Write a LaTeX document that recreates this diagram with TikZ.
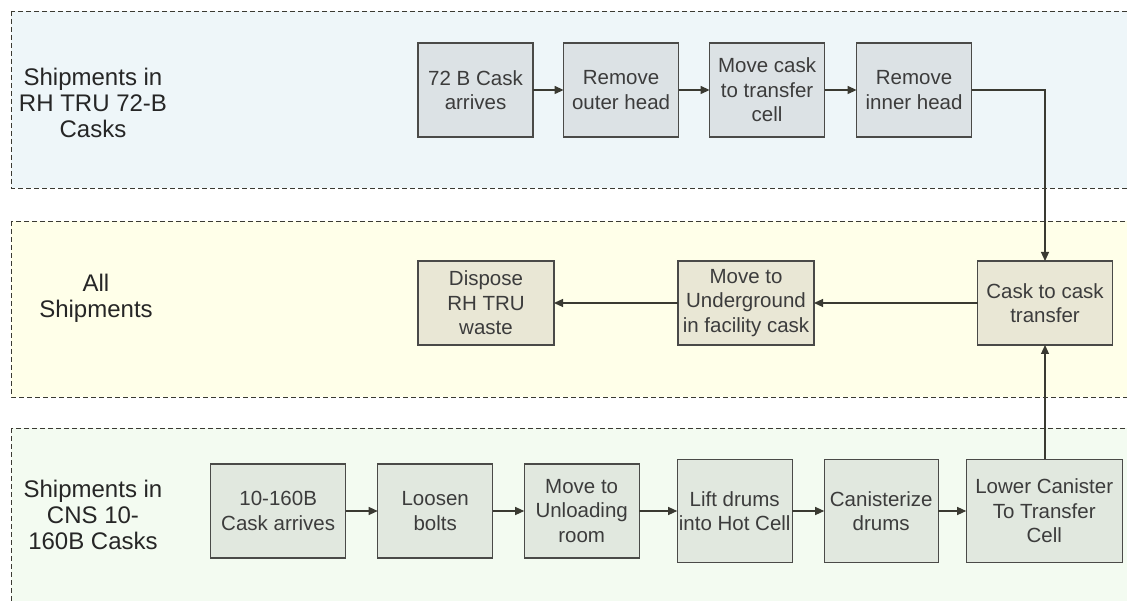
\documentclass[tikz,border=0pt]{standalone}
\usepackage{fontspec}
\setmainfont{Liberation Sans}
\usepackage{tikz}
\usetikzlibrary{arrows.meta,positioning}
\usepackage{xcolor}
\definecolor{rhlane}{HTML}{EEF6F9}
\definecolor{alllane}{HTML}{FFFFE9}
\definecolor{cnslane}{HTML}{F3FBF1}
\definecolor{rhfill}{HTML}{DCE2E5}
\definecolor{allfill}{HTML}{E9E7D5}
\definecolor{cnsfill}{HTML}{E1E8DF}
\definecolor{boxborder}{HTML}{4A4A48}
\definecolor{flowdark}{HTML}{3A3A32}
\definecolor{steptext}{HTML}{3C3C3C}
\definecolor{lanetext}{HTML}{262626}

\begin{document}
\begin{tikzpicture}[
  x=1pt, y=-1pt,
  >={Triangle[length=9pt,width=8pt]},
  laneband/.style={
    draw=flowdark,
    dash pattern=on 5pt off 3pt,
    line width=0.9pt
  },
  lanelabel/.style={
    align=center,
    text=lanetext,
    font=\fontsize{24pt}{26pt}\selectfont
  },
  rhbox/.style={
    draw=boxborder,
    fill=rhfill,
    line width=1.2pt,
    inner sep=0pt,
    outer sep=0pt,
    minimum width=115pt,
    minimum height=94pt,
    align=center,
    text=steptext,
    font=\fontsize{20.5pt}{24.5pt}\selectfont
  },
  allbox/.style={
    rhbox,
    fill=allfill,
    minimum width=136pt,
    minimum height=84pt
  },
  cnsbox/.style={
    rhbox,
    fill=cnsfill
  },
  flowarrow/.style={
    ->,
    line width=1.2pt,
    draw=flowdark
  }
]

  \useasboundingbox (0,0) rectangle (1127,601);
  \clip (0,0) rectangle (1127,601);
  \fill[white] (0,0) rectangle (1127,601);

  % Swim lanes
  \draw[laneband, fill=rhlane] (11,11) rectangle (1140,188);
  \draw[laneband, fill=alllane] (11,221) rectangle (1140,397);
  \draw[laneband, fill=cnslane] (11,428) rectangle (1140,620);

  \node[lanelabel] (rhlabel) at (93,103) {Shipments in\\RH TRU 72-B\\Casks};
  \node[lanelabel] (alllabel) at (96,298) {All\\Shipments};
  \node[lanelabel] (cnslabel) at (93,515) {Shipments in\\CNS 10-\\160B Casks};

  % --- RH TRU 72-B row ---
  \node[rhbox] (arrive72) at (475.5,90) {72 B Cask\\arrives};
  \node[rhbox, right=30.6pt of arrive72] (outerhead) {Remove\\outer head};
  \node[rhbox, right=31pt of outerhead] (movecask) {Move cask\\to transfer\\cell};
  \node[rhbox, right=32pt of movecask] (innerhead) {Remove\\inner head};

  % --- All shipments row ---
  \node[allbox, minimum width=135pt] (caskxfer) at (1045,303) {Cask to cask\\transfer};
  \node[allbox, left=163.5pt of caskxfer] (underground) {Move to\\Underground\\in facility cask};
  \node[allbox, left=124pt of underground] (dispose) {Dispose\\RH TRU\\waste};

  % --- CNS 10-160B row ---
  \node[cnsbox, minimum width=135pt] (arrive160) at (278.2,511) {10-160B\\Cask arrives};
  \node[cnsbox, right=32pt of arrive160] (loosen) {Loosen\\bolts};
  \node[cnsbox, right=31.5pt of loosen] (unloading) {Move to\\Unloading\\room};
  \node[cnsbox, minimum height=103.5pt, right=38pt of unloading] (liftdrums) {Lift drums\\into Hot Cell};
  \node[cnsbox, minimum width=114pt, minimum height=103.5pt, right=32pt of liftdrums] (canister) {Canisterize\\drums};
  \node[cnsbox, minimum width=156pt, minimum height=103.5pt, right=28pt of canister] (lowercan) {Lower Canister\\To Transfer\\Cell};

  % Connecting Arrows
  \draw[flowarrow] (arrive72) -- (outerhead);
  \draw[flowarrow] (outerhead) -- (movecask);
  \draw[flowarrow] (movecask) -- (innerhead);
  \draw[flowarrow] (innerhead.east) -| (caskxfer.north);
  \draw[flowarrow] (caskxfer) -- (underground);
  \draw[flowarrow] (underground) -- (dispose);
  \draw[flowarrow] (arrive160) -- (loosen);
  \draw[flowarrow] (loosen) -- (unloading);
  \draw[flowarrow] (unloading) -- (liftdrums);
  \draw[flowarrow] (liftdrums) -- (canister);
  \draw[flowarrow] (canister) -- (lowercan);
  \draw[flowarrow] (lowercan.north -| caskxfer.south) -- (caskxfer.south);

\end{tikzpicture}
\end{document}
